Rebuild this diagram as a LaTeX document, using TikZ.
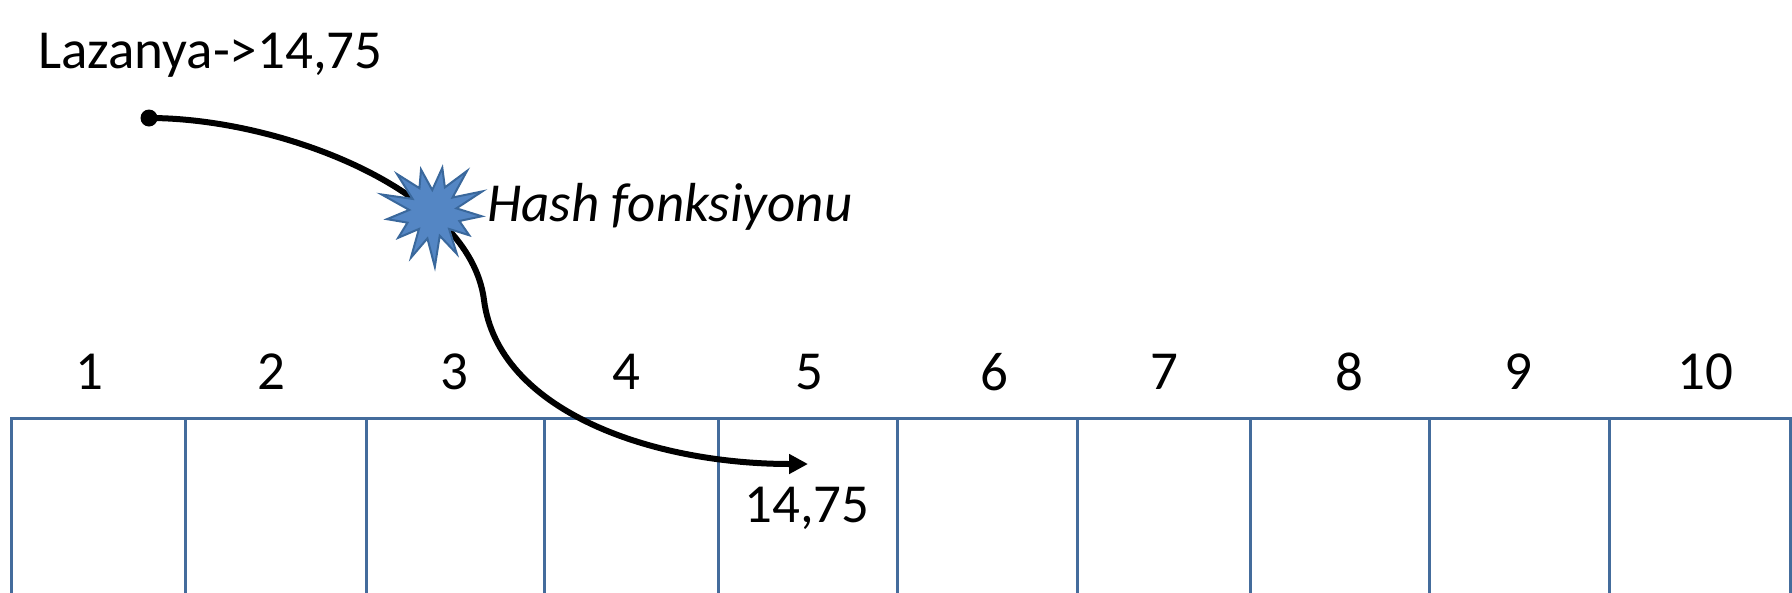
\documentclass[tikz,border=0pt]{standalone}
\usepackage{fontspec}
\setmainfont{Carlito}
\usetikzlibrary{arrows.meta}
\definecolor{gridblue}{RGB}{68,108,156}
\definecolor{burstfill}{RGB}{84,134,196}
\definecolor{burstedge}{RGB}{58,104,156}
\tikzset{
  txt/.style={inner sep=0pt, font=\fontsize{55}{66}\selectfont, text=black},
  idx/.style={txt, anchor=center},
  gridline/.style={draw=gridblue, line width=3pt},
  flow/.style={draw=black, line width=6pt, -{Triangle[length=19pt,width=19pt]}},
  burst/.style={fill=burstfill, draw=burstedge, line width=2pt, line join=miter},
  srcdot/.style={circle, fill=black, inner sep=0pt, minimum size=17pt}
}
\begin{document}
\begin{tikzpicture}[x=1pt,y=-1pt]
\useasboundingbox (0,0) rectangle (1792,592);
\clip (0,0) rectangle (1792,592);
\fill[white] (0,0) rectangle (1792,592);
% table
\draw[gridline] (11,620) -- (11,418) -- (1790,418) -- (1790,620);
\foreach \x in {185,366,544,718,897,1077,1250,1429,1609}{
  \draw[gridline] (\x,418) -- (\x,620);
}
% index labels
\foreach \n/\x in {1/89,2/271,3/454,4/626,5/809,6/994,7/1164,8/1349,9/1518,10/1705}{
  \node[idx] (lab\n) at (\x,372) {\n};
}
% texts
\node[txt, anchor=base west] (key) at (38,68) {Lazanya->14,75};
\node[srcdot] (src) at (149,118) {};
\coordinate (hash) at (433,212);
\coordinate (dst) at (808,464);
\coordinate (mid) at (484,300);
\draw[flow] (src.center) .. controls (280,118) and (470,190) .. (mid)
   .. controls (498,410) and (650,464) .. (dst);
% starburst
\draw[burst] plot[variable=\t, samples at={0,...,25}]
  ({433+(mod(\t,2)==0 ? 49+6*sin(\t*137) : 25+3*sin(\t*71))*cos(\t*360/26+5)},
   {212+(mod(\t,2)==0 ? 49+6*sin(\t*137) : 25+3*sin(\t*71))*sin(\t*360/26+5)}) -- cycle;
\node[txt, anchor=base west, font=\fontsize{55}{66}\selectfont\itshape] (hashlabel) at (487,221) {Hash fonksiyonu};
\node[txt, anchor=base] (val) at (807,522) {14,75};
\end{tikzpicture}
\end{document}
